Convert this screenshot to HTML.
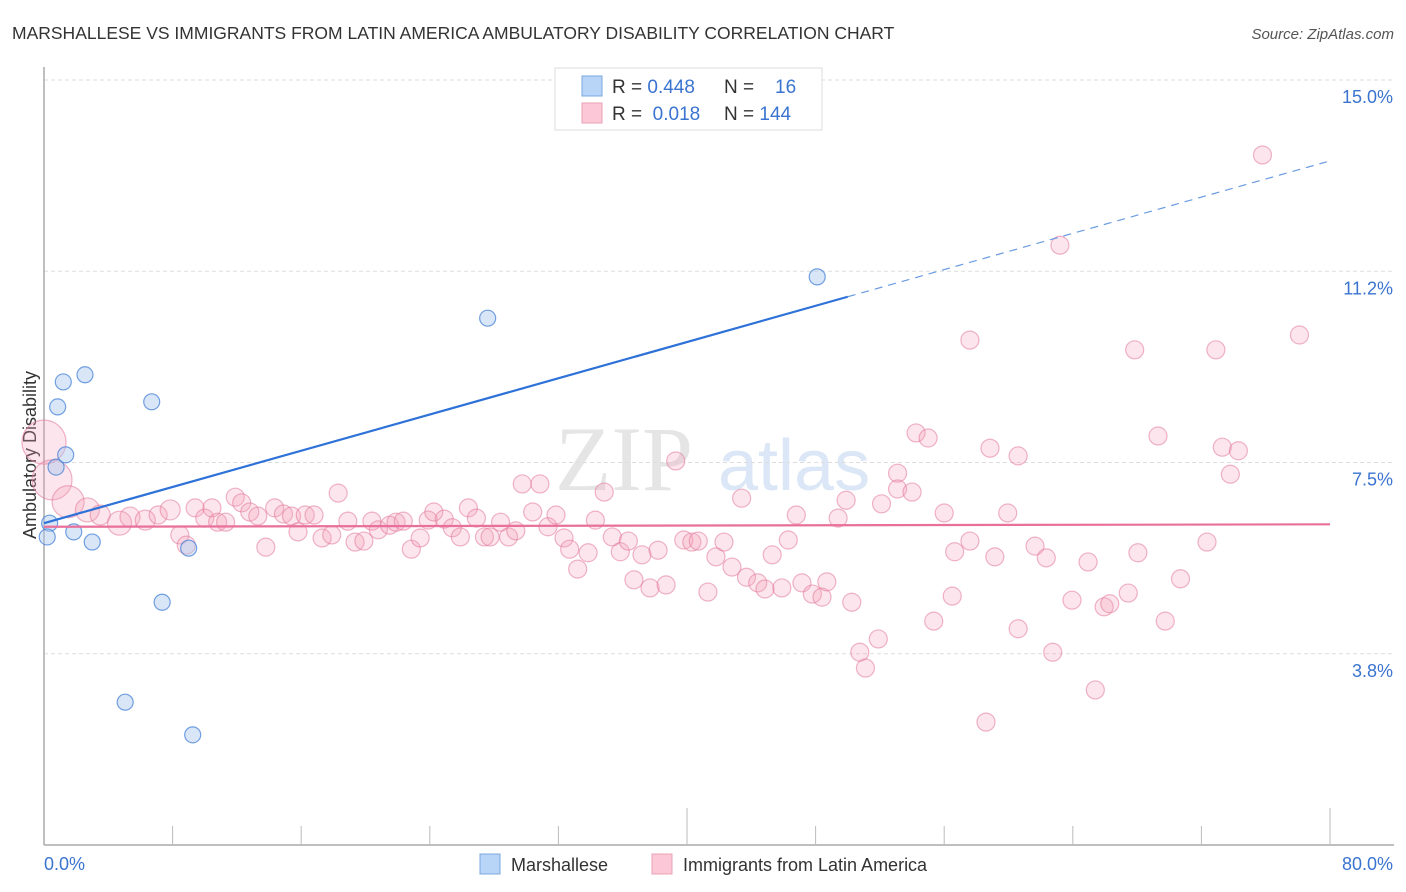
<!DOCTYPE html>
<html><head><meta charset="utf-8"><style>
body{margin:0;background:#fff;font-family:"Liberation Sans",sans-serif;}
#wrap{position:relative;width:1406px;height:892px;overflow:hidden;}
</style></head><body>
<div id="wrap">
<svg id="svg" width="1406" height="892" xmlns="http://www.w3.org/2000/svg">
<text x="12" y="39" font-size="17.5" fill="#333">MARSHALLESE VS IMMIGRANTS FROM LATIN AMERICA AMBULATORY DISABILITY CORRELATION CHART</text>
<text x="1394" y="39" font-size="15" fill="#555" font-style="italic" text-anchor="end">Source: ZipAtlas.com</text>
<text x="36" y="455" font-size="18" fill="#333" text-anchor="middle" transform="rotate(-90 36 455)">Ambulatory Disability</text>
<g opacity="0.5"><text x="555" y="490" font-size="92" fill="#ccc" font-family="Liberation Serif,serif">ZIP</text><text x="718" y="490" font-size="72" fill="#b8d0ee">atlas</text></g>
<g id="grid"></g><g id="axes"></g><g id="pts"></g><g id="lines"></g>
<g>
<rect x="555" y="68" width="267" height="62" fill="#fff" stroke="#ddd"/>
<rect x="582" y="76" width="20" height="20" fill="#b8d4f6" stroke="#7aa8e0"/>
<rect x="582" y="103" width="20" height="20" fill="#fcc8d8" stroke="#e8a0b5"/>
<text x="612" y="93" font-size="19" fill="#333">R = <tspan fill="#3a74d0">0.448</tspan></text>
<text x="724" y="93" font-size="19" fill="#333">N = <tspan fill="#3a74d0" x="775">16</tspan></text>
<text x="612" y="120" font-size="19" fill="#333">R = <tspan fill="#3a74d0">&#160;0.018</tspan></text>
<text x="724" y="120" font-size="19" fill="#333">N = <tspan fill="#3a74d0">144</tspan></text>
</g>
<g>
<rect x="480" y="854" width="20" height="20" fill="#b8d4f6" stroke="#7aa8e0"/>
<text x="511" y="871" font-size="18" fill="#333">Marshallese</text>
<rect x="652" y="854" width="20" height="20" fill="#fcc8d8" stroke="#e8a0b5"/>
<text x="683" y="871" font-size="18" fill="#333">Immigrants from Latin America</text>
</g>
</svg>
</div>
<script>
const yTicks=[3.75,7.5,11.25,15.0];
const yTickLabels=["3.8%","7.5%","11.2%","15.0%"];
const xTickLabels=["0.0%","80.0%"];
const blueX=[0.35,0.2,0.75,1.2,0.85,1.35,2.55,1.85,3.0,6.7,9.0,7.35,5.05,9.25,27.6,48.1];
const blueY=[6.31,6.04,7.41,9.08,8.59,7.65,9.22,6.14,5.94,8.69,5.82,4.76,2.80,2.16,10.33,11.14];
const pinkX=[0,0.5,1.5,2.7,3.5,4.7,5.35,6.3,7.1,7.85,8.45,8.85,9.4,10,10.45,10.8,11.3,11.9,12.3,12.8,13.3,13.8,14.35,14.9,15.4,15.8,16.25,16.8,17.3,17.9,18.3,18.9,19.35,19.9,20.4,20.8,21.5,21.9,22.35,22.85,23.4,23.9,24.25,24.9,25.4,25.9,26.4,26.9,27.4,27.75,28.4,28.9,29.35,29.75,30.4,30.85,31.35,31.85,32.35,32.7,33.2,33.85,34.3,34.85,35.35,35.85,36.35,36.7,37.2,37.7,38.2,38.7,39.3,39.8,40.3,40.7,41.3,41.8,42.3,42.8,43.4,43.7,44.4,44.85,45.3,45.9,46.3,46.8,47.15,47.8,48.4,48.7,49.4,49.9,50.25,50.75,51.1,51.9,52.1,53.1,53.1,54.0,54.25,55.0,55.35,56.0,56.5,56.65,57.6,57.6,58.6,58.85,59.15,59.95,60.6,60.6,61.65,62.35,62.75,63.2,63.95,64.95,65.4,65.95,66.3,67.45,67.85,68.05,69.3,69.75,70.7,72.35,72.9,73.3,73.8,74.3,75.8,78.1];
const pinkY=[7.90,7.16,6.73,6.57,6.47,6.31,6.43,6.37,6.47,6.57,6.08,5.88,6.61,6.41,6.61,6.33,6.33,6.82,6.71,6.53,6.45,5.84,6.61,6.49,6.45,6.14,6.47,6.47,6.02,6.08,6.90,6.35,5.94,5.96,6.35,6.18,6.27,6.33,6.35,5.80,6.02,6.37,6.53,6.39,6.22,6.04,6.61,6.41,6.04,6.04,6.33,6.04,6.16,7.08,6.53,7.08,6.24,6.47,6.02,5.80,5.41,5.73,6.37,6.92,6.04,5.75,5.96,5.20,5.69,5.04,5.78,5.10,7.53,5.98,5.94,5.96,4.96,5.65,5.94,5.45,6.80,5.25,5.14,5.02,5.69,5.04,5.98,6.47,5.14,4.92,4.86,5.16,6.41,6.76,4.76,3.78,3.47,4.04,6.69,7.29,6.98,6.92,8.08,7.98,4.39,6.51,4.88,5.75,5.96,9.90,2.41,7.78,5.65,6.51,4.24,7.63,5.86,5.63,3.78,11.76,4.80,5.55,3.04,4.67,4.73,4.94,9.71,5.73,8.02,4.39,5.22,5.94,9.71,7.80,7.27,7.73,13.53,10.0];
const pinkSize=[22,20,16,12,10,12,10,10,9,10];
const blueFit=[6.31,0.0888];
const pinkFit=[6.24,0.0006];
const X0=44,X1=1330,Y0=845,PXY=51;
function sx(v){return X0+(X1-X0)*v/80;}
function sy(v){return Y0-v*PXY;}
const NS="http://www.w3.org/2000/svg";
function mk(tag,attrs,parent){const e=document.createElementNS(NS,tag);for(const k in attrs)e.setAttribute(k,attrs[k]);parent.appendChild(e);return e;}
const grid=document.getElementById('grid'),axes=document.getElementById('axes'),pts=document.getElementById('pts'),lines=document.getElementById('lines');
yTicks.forEach((t,i)=>{
 const l=mk('line',{x1:X0,x2:1394,y1:sy(t),y2:sy(t),stroke:'#ddd','stroke-dasharray':'4,3'},grid);
 
 
 const tx=mk('text',{x:1393,y:sy(t)+23,'font-size':18,fill:'#3a74d0','text-anchor':'end'},grid);
 tx.textContent=yTickLabels[i];
 
 
});
const ax=mk('line',{x1:X0,x2:1394,y1:Y0,y2:Y0,stroke:'#aaa','stroke-width':1.5},axes);


const ay=mk('line',{x1:X0,x2:X0,y1:67,y2:Y0,stroke:'#aaa','stroke-width':1.5},axes);


for(let i=1;i<=10;i++){
 const v=i*8;const tall=(i===5||i===10);
 const t=mk('line',{x1:sx(v),x2:sx(v),y1:tall?808:826,y2:Y0,stroke:'#bbb'},axes);
 
 
}
const xl0=mk('text',{x:X0,y:870,'font-size':18,fill:'#3a74d0'},axes);xl0.textContent=xTickLabels[0];


const xl1=mk('text',{x:1393,y:870,'font-size':18,fill:'#3a74d0','text-anchor':'end'},axes);xl1.textContent=xTickLabels[1];


pinkX.forEach((x,i)=>{
 const c=mk('circle',{cx:sx(x),cy:sy(pinkY[i]),r:pinkSize[i]||9,fill:'rgba(244,160,185,0.28)',stroke:'rgba(225,120,155,0.55)','stroke-width':1.2},pts);
 
 
});
blueX.forEach((x,i)=>{
 const c=mk('circle',{cx:sx(x),cy:sy(blueY[i]),r:8,fill:'rgba(170,200,240,0.45)',stroke:'rgba(70,130,215,0.75)','stroke-width':1.2},pts);
 
 
});
const bs=mk('line',{x1:sx(0),y1:sy(blueFit[0]),x2:sx(50),y2:sy(blueFit[0]+blueFit[1]*50),stroke:'#2e72d8','stroke-width':2.2},lines);


const bd=mk('line',{x1:sx(50),y1:sy(blueFit[0]+blueFit[1]*50),x2:sx(79.8),y2:sy(blueFit[0]+blueFit[1]*79.8),stroke:'#6a9be0','stroke-width':1.2,'stroke-dasharray':'8,6'},lines);


const pl=mk('line',{x1:sx(0),y1:sy(pinkFit[0]),x2:sx(80),y2:sy(pinkFit[0]+pinkFit[1]*80),stroke:'#e8709a','stroke-width':2.2},lines);


</script>
</body></html>
